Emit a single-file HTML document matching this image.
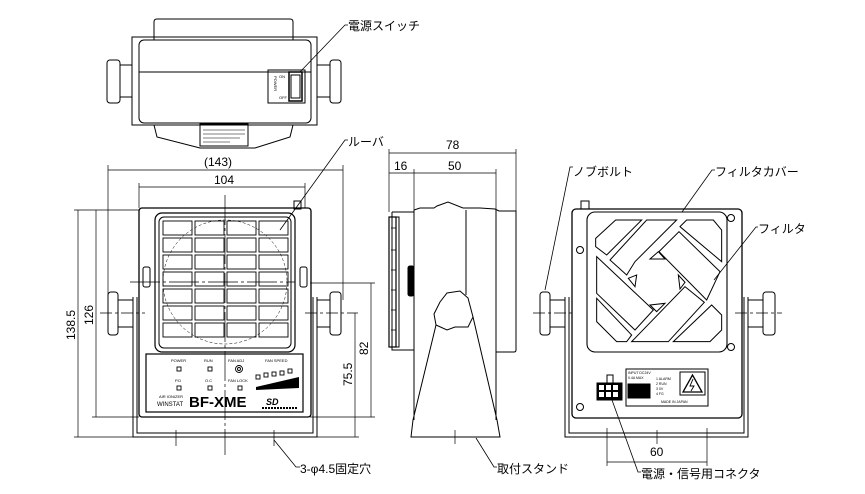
<!DOCTYPE html>
<html><head><meta charset="utf-8"><style>
html,body{margin:0;padding:0;background:#fff;width:865px;height:494px;overflow:hidden}
svg{display:block}
text{font-family:"Liberation Sans","Noto Sans CJK JP",sans-serif;fill:#000}
</style></head><body>
<svg width="865" height="494" viewBox="0 0 865 494" xmlns="http://www.w3.org/2000/svg" fill="none" stroke="#000" stroke-width="1">
<!-- ===== TOP VIEW ===== -->
<path d="M154,40 V22 Q154,19 157,19 H290 Q293,19 293,22 V40"/>
<rect x="132" y="37" width="185" height="88"/>
<rect x="139" y="40" width="172" height="83" rx="5"/>
<line x1="139" y1="72" x2="311" y2="72"/>
<rect x="107" y="60" width="13" height="43" rx="3"/>
<rect x="120" y="65" width="12" height="32"/>
<rect x="330" y="60" width="11" height="43" rx="3"/>
<rect x="317" y="65" width="13" height="32"/>
<rect x="268" y="70" width="37" height="33"/>
<rect x="289" y="72" width="13" height="29" stroke-width="1.5"/>
<rect x="291" y="75" width="9" height="23"/>
<text x="279" y="78" font-size="4" stroke="none">ON</text>
<text x="279" y="99" font-size="4" stroke="none">OFF</text>
<text x="274" y="76" font-size="4" stroke="none" transform="rotate(90 274 76)">POWER</text>
<path d="M154,125 L157,137 L200,148 L255,148 L290,137 L293,125"/>
<rect x="200" y="124" width="48" height="22"/>
<g stroke-width="0.6"><line x1="203" y1="130" x2="245" y2="130"/><line x1="203" y1="134" x2="245" y2="134"/><line x1="203" y1="138" x2="240" y2="138"/><line x1="203" y1="142" x2="230" y2="142"/></g>
<polyline points="300,72 345,25 348,25" stroke-width="0.8"/>
<text x="348" y="30" font-size="12" stroke="none">電源スイッチ</text>

<!-- ===== FRONT VIEW ===== -->
<g stroke-width="0.7">
<line x1="108" y1="170" x2="343" y2="170"/><line x1="108" y1="165" x2="108" y2="300"/><line x1="343" y1="165" x2="343" y2="300"/>
<line x1="139" y1="187" x2="305" y2="187"/><line x1="139" y1="183" x2="139" y2="208"/><line x1="305" y1="183" x2="305" y2="208"/>
<line x1="78" y1="210" x2="78" y2="437"/><line x1="74" y1="210" x2="139" y2="210"/><line x1="74" y1="437" x2="133" y2="437"/>
<line x1="96" y1="210" x2="96" y2="417"/><line x1="92" y1="417" x2="139" y2="417"/>
<line x1="371" y1="283" x2="371" y2="417"/><line x1="310" y1="417" x2="375" y2="417"/><line x1="310" y1="283" x2="375" y2="283"/>
<line x1="355" y1="313" x2="355" y2="437"/><line x1="317" y1="437" x2="359" y2="437"/>
<line x1="225" y1="195" x2="225" y2="455" stroke-dasharray="30,3,3,3"/>
<line x1="130" y1="282" x2="295" y2="282" stroke-dasharray="30,3,3,3"/>
<line x1="100" y1="313" x2="145" y2="313" stroke-dasharray="12,3,3,3"/>
<line x1="305" y1="313" x2="358" y2="313" stroke-dasharray="12,3,3,3"/>
<line x1="176" y1="430" x2="176" y2="446"/><line x1="274" y1="430" x2="274" y2="446"/>
</g>
<text x="204" y="166" font-size="12" stroke="none">(143)</text>
<text x="214" y="184" font-size="12" stroke="none">104</text>
<text x="75" y="340" font-size="12" stroke="none" transform="rotate(-90 75 340)">138.5</text>
<text x="93" y="325" font-size="12" stroke="none" transform="rotate(-90 93 325)">126</text>
<text x="368" y="355" font-size="12" stroke="none" transform="rotate(-90 368 355)">82</text>
<text x="352" y="386" font-size="12" stroke="none" transform="rotate(-90 352 386)">75.5</text>
<!-- stand -->
<path d="M133,297 V437 H317 V297"/>
<path d="M137,297 V433 H313 V297"/>
<rect x="108" y="292" width="10" height="43" rx="3"/>
<rect x="118" y="300" width="15" height="27"/>
<rect x="330" y="292" width="11" height="43" rx="3"/>
<rect x="317" y="300" width="13" height="27"/>
<!-- body -->
<rect x="139" y="208" width="172" height="209" rx="3" stroke-width="1.3"/>
<rect x="294" y="201" width="7" height="8"/>
<rect x="143" y="267" width="7" height="20" rx="2"/>
<rect x="300" y="267" width="7" height="20" rx="2"/>
<rect x="155" y="213" width="140" height="139" rx="7" stroke-width="1.2"/>
<rect x="159" y="217" width="132" height="131" rx="5"/>
<circle cx="225" cy="282" r="62" stroke-width="0.5" stroke-dasharray="3,2"/>
<g stroke-width="0.9">
<rect x="163" y="221" width="29" height="14"/><rect x="195" y="221" width="29" height="14"/><rect x="227" y="221" width="29" height="14"/><rect x="259" y="221" width="29" height="14"/>
<rect x="163" y="238" width="29" height="14"/><rect x="195" y="238" width="29" height="14"/><rect x="227" y="238" width="29" height="14"/><rect x="259" y="238" width="29" height="14"/>
<rect x="163" y="255" width="29" height="14"/><rect x="195" y="255" width="29" height="14"/><rect x="227" y="255" width="29" height="14"/><rect x="259" y="255" width="29" height="14"/>
<rect x="163" y="272" width="29" height="14"/><rect x="195" y="272" width="29" height="14"/><rect x="227" y="272" width="29" height="14"/><rect x="259" y="272" width="29" height="14"/>
<rect x="163" y="289" width="29" height="14"/><rect x="195" y="289" width="29" height="14"/><rect x="227" y="289" width="29" height="14"/><rect x="259" y="289" width="29" height="14"/>
<rect x="163" y="306" width="29" height="14"/><rect x="195" y="306" width="29" height="14"/><rect x="227" y="306" width="29" height="14"/><rect x="259" y="306" width="29" height="14"/>
<rect x="163" y="323" width="29" height="14"/><rect x="195" y="323" width="29" height="14"/><rect x="227" y="323" width="29" height="14"/><rect x="259" y="323" width="29" height="14"/>
</g>
<!-- panel -->
<rect x="146" y="354" width="157" height="58" stroke-width="1.2"/>
<g font-size="4" stroke="none">
<text x="171" y="362">POWER</text><text x="204" y="362">RUN</text><text x="228" y="362">FAN ADJ</text><text x="265" y="362">FAN SPEED</text>
<text x="175" y="382">P.D</text><text x="205" y="382">O.C</text><text x="228" y="382">FAN LOCK</text>
<text x="159" y="398">AIR IONIZER</text><text x="157" y="406" font-size="6">WINSTAT</text>
</g>
<g stroke-width="0.9">
<rect x="177" y="367" width="4" height="4"/><rect x="208" y="367" width="4" height="4"/>
<rect x="177" y="386" width="4" height="4"/><rect x="208" y="386" width="4" height="4"/><rect x="238" y="386" width="4" height="4"/>
<circle cx="239" cy="369" r="3.5"/><circle cx="239" cy="369" r="1.5"/>
<rect x="256" y="375" width="4" height="4"/><rect x="264" y="373" width="4" height="4"/><rect x="272" y="372" width="4" height="4"/><rect x="280" y="371" width="4" height="4"/><rect x="288" y="369" width="4" height="4"/>
</g>
<polygon points="256,387 299,377 299,388 256,390" fill="#000" stroke="none"/>
<text x="189" y="407" font-size="15" font-weight="bold" stroke="none">BF-XME</text>
<text x="266" y="405" font-size="9" font-weight="bold" font-style="italic" stroke="none">SD</text>
<line x1="262" y1="408" x2="298" y2="408" stroke-width="2" stroke-dasharray="2,1"/>
<polyline points="280,230 345,140 348,140" stroke-width="0.8"/>
<text x="348" y="146" font-size="12" stroke="none">ルーバ</text>
<polyline points="274,440 296,467 300,467" stroke-width="0.8"/>
<text x="300" y="473" font-size="12" stroke="none">3-φ4.5固定穴</text>

<!-- ===== SIDE VIEW ===== -->
<g stroke-width="0.7">
<line x1="389" y1="153" x2="516" y2="153"/><line x1="389" y1="149" x2="389" y2="212"/><line x1="516" y1="149" x2="516" y2="212"/>
<line x1="389" y1="173" x2="496" y2="173"/><line x1="414" y1="169" x2="414" y2="210"/><line x1="496" y1="169" x2="496" y2="210"/>
</g>
<text x="446" y="149" font-size="12" stroke="none">78</text>
<text x="394" y="170" font-size="12" stroke="none">16</text>
<text x="448" y="170" font-size="12" stroke="none">50</text>
<path d="M392,212 H414 M414,210 L420,208 H434 L437,206 L448,202 L463,208 H480 L495,209 L499,211 H516 V350 Q516,352 514,352 H496 M392,212 V350 H414"/>
<line x1="414" y1="210" x2="414" y2="420"/>
<line x1="496" y1="210" x2="496" y2="420"/>
<line x1="466" y1="210" x2="466" y2="295"/>
<rect x="389" y="217" width="7" height="130" stroke-width="1.2"/>
<rect x="396" y="217" width="3" height="130"/>
<path d="M391,228 H396 M391,250 H396 M391,270 H396 M391,290 H396 M391,310 H396 M391,330 H396" stroke-width="0.7"/>
<rect x="408" y="266" width="6" height="30" rx="2" fill="#000"/>
<path d="M447,293 L460,291 L468,298 L473,317 L468,327 L455,327 L447,330 L436,325 L434,314 L440,302 Z"/>
<path d="M436,325 L413,420 L411,437 H500 L497,420 L473,317"/>
<line x1="411" y1="437" x2="500" y2="437" stroke-dasharray="3,1.5"/>
<line x1="455" y1="430" x2="455" y2="444" stroke-width="0.7"/>
<polyline points="476,438 494,467 497,467" stroke-width="0.8"/>
<text x="497" y="473" font-size="12" stroke="none">取付スタンド</text>

<!-- ===== BACK VIEW ===== -->
<path d="M565,297 V437 H748 V297"/>
<path d="M569,297 V433 H744 V297"/>
<rect x="540" y="292" width="10" height="43" rx="3"/>
<rect x="550" y="300" width="15" height="27"/>
<rect x="763" y="292" width="12" height="43" rx="3"/>
<rect x="748" y="300" width="15" height="27"/>
<g stroke-width="0.7">
<line x1="533" y1="313" x2="575" y2="313" stroke-dasharray="12,3,3,3"/>
<line x1="735" y1="313" x2="782" y2="313" stroke-dasharray="12,3,3,3"/>
</g>
<rect x="572" y="209" width="170" height="209" rx="4" stroke-width="1.3"/>
<rect x="581" y="201" width="8" height="8"/>
<rect x="587" y="212" width="140" height="140" rx="8" stroke-width="1.1"/>
<circle cx="580" cy="250" r="3.5"/><circle cx="731" cy="218" r="3.5"/><circle cx="731" cy="347" r="3.5"/><circle cx="580" cy="407" r="3.5"/>
<g transform="translate(585,205) scale(0.3333)" stroke-width="3">
<polygon points="32,100 92,45 170,45 65,150 32,125"/>
<polygon points="185,45 275,45 150,170 125,210 75,165"/>
<polygon points="285,65 305,45 385,45 410,75 410,170"/>
<polygon points="222,140 282,80 405,200 365,285"/>
<polygon points="35,155 205,315 150,375 35,265"/>
<polygon points="35,280 140,390 125,410 95,410 35,350"/>
<polygon points="140,410 300,245 358,292 250,410"/>
<polygon points="265,410 380,300 410,330 410,375 375,410"/>
<polygon points="195,162 240,162 220,140"/>
<polygon points="130,220 155,210 150,245"/>
<polygon points="280,210 300,232 285,252"/>
<polygon points="195,300 240,295 215,320"/>
</g>
<!-- connector & label -->
<rect x="607" y="375" width="6" height="8"/>
<rect x="597" y="383" width="25" height="17" fill="#000"/>
<g fill="#fff" stroke="none"><rect x="599" y="385" width="5" height="5"/><rect x="606" y="385" width="5" height="5"/><rect x="613" y="385" width="5" height="5"/><rect x="599" y="392" width="5" height="5"/><rect x="606" y="392" width="5" height="5"/><rect x="613" y="392" width="5" height="5"/></g>
<rect x="626" y="369" width="82" height="37"/>
<rect x="628" y="384" width="22" height="14" fill="#000"/>
<g font-size="3.5" stroke="none"><text x="628" y="374">INPUT DC24V</text><text x="628" y="379">0.4A MAX</text><text x="656" y="380">1 ALARM</text><text x="656" y="385">2 RUN</text><text x="656" y="390">3 0V</text><text x="656" y="395">4 FG</text><text x="661" y="403">MADE IN JAPAN</text></g>
<rect x="680" y="372" width="25" height="23"/>
<polygon points="692.5,375 683,392 702,392" stroke-width="1.3"/>
<path d="M693,379 L690,386 H694 L691,391" stroke-width="0.9"/>
<g stroke-width="0.7">
<line x1="607" y1="428" x2="607" y2="466"/><line x1="707" y1="428" x2="707" y2="466"/><line x1="657" y1="430" x2="657" y2="444"/>
<line x1="607" y1="462" x2="707" y2="462"/>
</g>
<text x="650" y="456" font-size="12" stroke="none">60</text>
<polyline points="545,290 570,167 573,167" stroke-width="0.8"/>
<text x="573" y="176" font-size="12" stroke="none">ノブボルト</text>
<polyline points="682,212 712,170 715,170" stroke-width="0.8"/>
<text x="715" y="176" font-size="12" stroke="none">フィルタカバー</text>
<polyline points="714,280 756,227 758,227" stroke-width="0.8"/>
<text x="758" y="233" font-size="12" stroke="none">フィルタ</text>
<polyline points="612,400 638,472 641,472" stroke-width="0.8"/>
<text x="641" y="478" font-size="12" stroke="none">電源・信号用コネクタ</text>
</svg>
</body></html>
